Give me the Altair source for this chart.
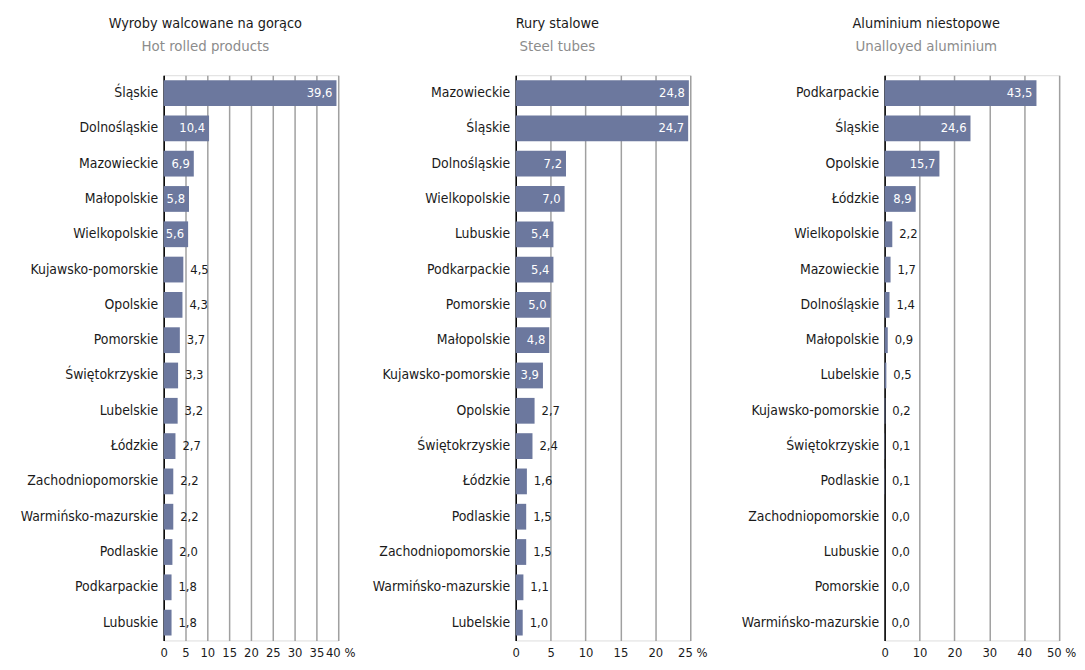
import altair as alt
import pandas as pd

# Panel 1: Hot rolled products
cats1 = ["Śląskie", "Dolnośląskie", "Mazowieckie", "Małopolskie", "Wielkopolskie",
         "Kujawsko-pomorskie", "Opolskie", "Pomorskie", "Świętokrzyskie", "Lubelskie",
         "Łódzkie", "Zachodniopomorskie", "Warmińsko-mazurskie", "Podlaskie",
         "Podkarpackie", "Lubuskie"]
vals1 = [39.6, 10.4, 6.9, 5.8, 5.6, 4.5, 4.3, 3.7, 3.3, 3.2, 2.7, 2.2, 2.2, 2.0, 1.8, 1.8]

# Panel 2: Steel tubes
cats2 = ["Mazowieckie", "Śląskie", "Dolnośląskie", "Wielkopolskie", "Lubuskie",
         "Podkarpackie", "Pomorskie", "Małopolskie", "Kujawsko-pomorskie", "Opolskie",
         "Świętokrzyskie", "Łódzkie", "Podlaskie", "Zachodniopomorskie",
         "Warmińsko-mazurskie", "Lubelskie"]
vals2 = [24.8, 24.7, 7.2, 7.0, 5.4, 5.4, 5.0, 4.8, 3.9, 2.7, 2.4, 1.6, 1.5, 1.5, 1.1, 1.0]

# Panel 3: Unalloyed aluminium
cats3 = ["Podkarpackie", "Śląskie", "Opolskie", "Łódzkie", "Wielkopolskie",
         "Mazowieckie", "Dolnośląskie", "Małopolskie", "Lubelskie", "Kujawsko-pomorskie",
         "Świętokrzyskie", "Podlaskie", "Zachodniopomorskie", "Lubuskie", "Pomorskie",
         "Warmińsko-mazurskie"]
vals3 = [43.5, 24.6, 15.7, 8.9, 2.2, 1.7, 1.4, 0.9, 0.5, 0.2, 0.1, 0.1, 0.0, 0.0, 0.0, 0.0]

titles = ["Wyroby walcowane na gorąco", "Rury stalowe", "Aluminium  niestopowe"]
subtitles = ["Hot rolled products", "Steel tubes", "Unalloyed  aluminium"]
maxes = [40, 25, 50]
steps = [list(range(0, 41, 5)), list(range(0, 26, 5)), list(range(0, 51, 10))]
thresholds = [5.0, 3.5, 5.0]
extents = [156, 160, 177]

FONT = "DejaVu Sans Condensed, Liberation Sans Narrow, Roboto, sans-serif"
BAR = "#6c789e"
W, H = 176, 570


def panel(cats, vals, title, subtitle, vmax, ticks, thr, ext):
    df = pd.DataFrame({"region": cats, "value": vals})
    y = alt.Y("region:N", sort=cats, title=None,
              scale=alt.Scale(paddingInner=0.27, paddingOuter=0.14),
              axis=alt.Axis(domain=True, domainColor="#000000", domainWidth=1.5,
                            ticks=False, labelFontSize=14, labelColor="#1a1a1a",
                            labelFont=FONT, labelPadding=6, grid=False,
                            minExtent=ext, maxExtent=ext))
    x = alt.X("value:Q", title=None,
              scale=alt.Scale(domain=[0, vmax], nice=False, zero=True),
              axis=alt.Axis(values=ticks, domain=False, ticks=False, grid=True,
                            gridColor="#a0a0a0", gridWidth=1.5,
                            labelFontSize=13, labelFont=FONT, labelColor="#1a1a1a",
                            labelPadding=6, labelOverlap=False, labelFlush=False,
                            labelBound=False,
                            labelExpr=f"datum.value == {vmax} ? datum.label + ' %' : datum.label",
                            labelOffset={"condition": {"test": f"datum.value == {vmax}", "value": 2}, "value": 0}))
    base = alt.Chart(df).transform_calculate(
        lab="replace(format(datum.value, '.1f'), '.', ',')"
    ).encode(x=x, y=y)
    bars = base.mark_bar(color=BAR)
    inside = base.transform_filter(f"datum.value >= {thr}").mark_text(
        align="right", dx=-4, color="white", fontSize=13, font=FONT
    ).encode(text="lab:N")
    outside = base.transform_filter(f"datum.value < {thr}").mark_text(
        align="left", dx=7, color="#1a1a1a", fontSize=13, font=FONT
    ).encode(text="lab:N")
    return alt.layer(bars, inside, outside).properties(
        width=W, height=H,
        title=alt.TitleParams(text=title, subtitle=subtitle, font=FONT, fontSize=14.5,
                              fontWeight="normal", color="#1a1a1a",
                              subtitleFont=FONT, subtitleFontSize=15,
                              subtitleColor="#8c8c8c", subtitlePadding=8,
                              anchor="middle", frame="group", dx=-46, offset=20)
    )


p1 = panel(cats1, vals1, titles[0], subtitles[0], maxes[0], steps[0], thresholds[0], extents[0])
p2 = panel(cats2, vals2, titles[1], subtitles[1], maxes[1], steps[1], thresholds[1], extents[1])
p3 = panel(cats3, vals3, titles[2], subtitles[2], maxes[2], steps[2], thresholds[2], extents[2])

chart = alt.hconcat(p1, p2, p3, spacing=0).properties(
    padding={"left": 0, "right": 0, "top": 5, "bottom": 5}
).configure_view(
    strokeOpacity=0, strokeWidth=0
).configure(background="white")

chart.save("out.html", embed_options={"renderer": "svg", "actions": False})
